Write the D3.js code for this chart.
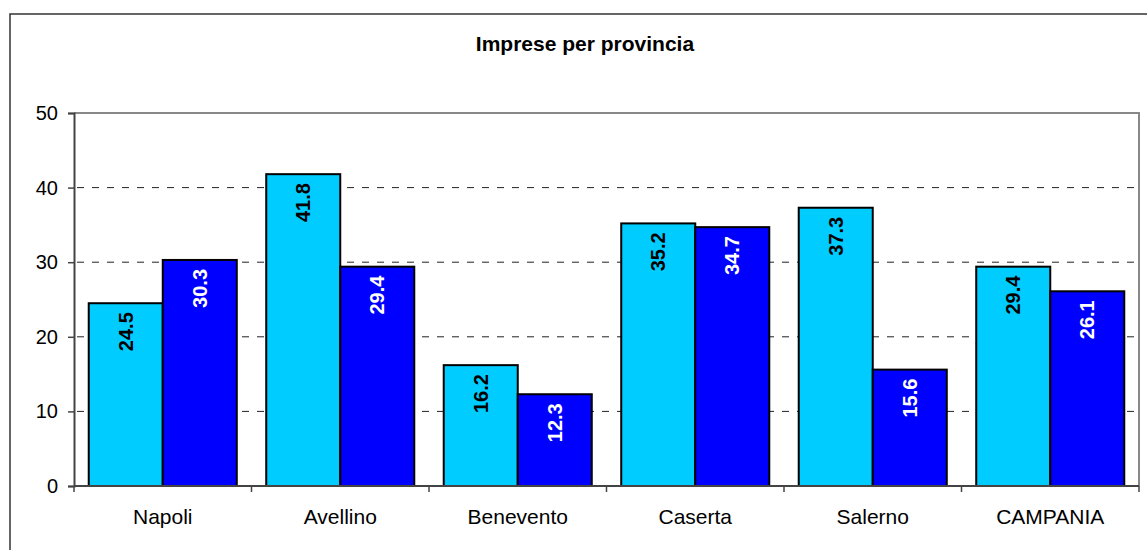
<!DOCTYPE html>
<html>
<head>
<meta charset="utf-8">
<script src="https://cdn.jsdelivr.net/npm/d3@7"></script>
<style>
  body { margin: 0; background: #fff; }
  svg { font-family: "Liberation Sans", Arial, sans-serif; }
</style>
</head>
<body>
<div id="chart"></div>
<script>
const categories = ["Napoli", "Avellino", "Benevento", "Caserta", "Salerno", "CAMPANIA"];
const seriesA = [24.5, 41.8, 16.2, 35.2, 37.3, 29.4];
const seriesB = [30.3, 29.4, 12.3, 34.7, 15.6, 26.1];
const yTicks = [0, 10, 20, 30, 40, 50];
const title = "Imprese per provincia";

const colorA = "#00CCFF";
const colorB = "#0000FF";

const W = 1147, H = 550;
const plot = {left: 74, right: 1139, top: 113, bottom: 486};

const svg = d3.select("#chart").append("svg")
    .attr("width", W)
    .attr("height", H);

// outer frame
svg.append("rect")
    .attr("x", 10).attr("y", 14)
    .attr("width", 1150).attr("height", 560)
    .attr("fill", "#fff")
    .attr("stroke", "#333").attr("stroke-width", 1.5);

svg.append("text")
    .attr("x", 585).attr("y", 51)
    .attr("text-anchor", "middle")
    .attr("font-size", 21).attr("font-weight", "bold")
    .text(title);

const x0 = d3.scaleBand()
    .domain(categories)
    .range([plot.left, plot.right])
    .paddingInner(0.166)
    .paddingOuter(0.083);

const x1 = d3.scaleBand()
    .domain(["a", "b"])
    .range([0, x0.bandwidth()]);

const y = d3.scaleLinear()
    .domain([0, 50])
    .range([plot.bottom, plot.top]);

// plot border (top/right)
svg.append("path")
    .attr("d", `M${plot.left},${plot.top}H${plot.right}V${plot.bottom}`)
    .attr("fill", "none")
    .attr("stroke", "#888").attr("stroke-width", 2);

// gridlines
svg.append("g")
    .selectAll("line")
    .data(yTicks.filter(t => t > 0 && t < 50))
    .enter()
    .append("line")
        .attr("x1", plot.left + 3).attr("x2", plot.right)
        .attr("y1", d => y(d)).attr("y2", d => y(d))
        .attr("stroke", "#222").attr("stroke-width", 1)
        .attr("stroke-dasharray", "7,8");

// bars
const rows = categories.map((c, i) => ({cat: c, a: seriesA[i], b: seriesB[i]}));
const groups = svg.append("g")
    .selectAll("g")
    .data(rows)
    .enter()
    .append("g")
        .attr("transform", d => `translate(${x0(d.cat)},0)`);

const bars = groups.selectAll("g")
    .data(d => [{k: "a", v: d.a}, {k: "b", v: d.b}])
    .enter()
    .append("g");

bars.append("rect")
    .attr("x", d => x1(d.k))
    .attr("y", d => y(d.v))
    .attr("width", x1.bandwidth())
    .attr("height", d => y(0) - y(d.v))
    .attr("fill", d => d.k == "a" ? colorA : colorB)
    .attr("stroke", "#000").attr("stroke-width", 2);

bars.append("text")
    .attr("transform", d => `translate(${x1(d.k) + x1.bandwidth() / 2 + 7},${y(d.v) + 9}) rotate(-90)`)
    .attr("text-anchor", "end")
    .attr("font-size", 20).attr("font-weight", "bold")
    .attr("fill", d => d.k == "a" ? "#000" : "#fff")
    .text(d => d.v.toFixed(1));

// y axis
const yAxis = svg.append("g")
    .attr("transform", `translate(${plot.left},0)`)
    .call(d3.axisLeft(y).tickValues(yTicks).tickSize(6).tickPadding(10));
yAxis.selectAll("text").attr("font-size", 20).attr("fill", "#000").attr("font-family", "Liberation Sans, Arial, sans-serif");
yAxis.selectAll("line").attr("stroke", "#444").attr("stroke-width", 1.5);
yAxis.select(".domain").attr("stroke", "#444").attr("stroke-width", 2);

// x axis
const xAxis = svg.append("g")
    .attr("transform", `translate(0,${plot.bottom})`)
    .call(d3.axisBottom(x0).tickSize(0).tickPadding(23));
xAxis.selectAll("text").attr("font-size", 21).attr("fill", "#000").attr("font-family", "Liberation Sans, Arial, sans-serif");
xAxis.select(".domain").attr("stroke", "#444").attr("stroke-width", 2).attr("d", `M${plot.left},0H${plot.right}`);

// category separators ticks
const step = (plot.right - plot.left) / categories.length;
xAxis.append("g")
    .selectAll("line")
    .data(d3.range(categories.length + 1))
    .enter()
    .append("line")
        .attr("x1", i => plot.left + i * step).attr("x2", i => plot.left + i * step)
        .attr("y1", 0).attr("y2", 6)
        .attr("stroke", "#444").attr("stroke-width", 1.5);
</script>
</body>
</html>
